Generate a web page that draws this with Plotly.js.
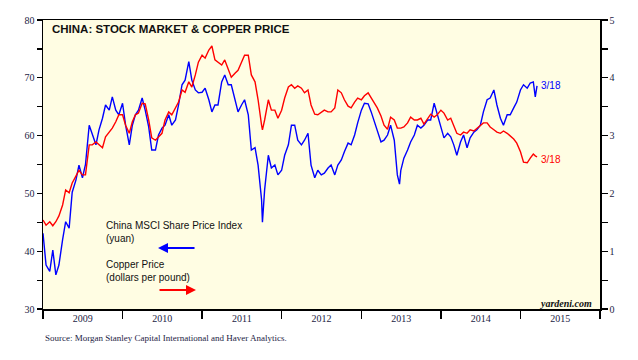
<!DOCTYPE html>
<html>
<head>
<meta charset="utf-8">
<script src="https://cdn.plot.ly/plotly-3.0.1.min.js"></script>
<style>
html,body{margin:0;padding:0;background:#fff;}
#chart{width:638px;height:360px;}
</style>
</head>
<body>
<div id="chart"></div>
<script>
var dates = [
'2009-01-01','2009-01-15','2009-02-01','2009-02-15','2009-03-01','2009-03-15','2009-04-01','2009-04-15','2009-05-01','2009-05-15','2009-06-01','2009-06-15','2009-07-01','2009-07-15','2009-08-01','2009-08-15','2009-09-01','2009-09-15','2009-10-01','2009-10-15','2009-11-01','2009-11-15','2009-12-01','2009-12-15',
'2010-01-01','2010-01-15','2010-02-01','2010-02-15','2010-03-01','2010-03-15','2010-04-01','2010-04-15','2010-05-01','2010-05-15','2010-06-01','2010-06-15','2010-07-01','2010-07-15','2010-08-01','2010-08-15','2010-09-01','2010-09-15','2010-10-01','2010-10-15','2010-11-01','2010-11-15','2010-12-01','2010-12-15',
'2011-01-01','2011-01-15','2011-02-01','2011-02-15','2011-03-01','2011-03-15','2011-04-01','2011-04-15','2011-05-01','2011-05-15','2011-06-01','2011-06-15','2011-07-01','2011-07-15','2011-08-01','2011-08-15','2011-09-01','2011-09-15','2011-10-01','2011-10-05','2011-10-15','2011-11-01','2011-11-15','2011-12-01','2011-12-15',
'2012-01-01','2012-01-15','2012-02-01','2012-02-15','2012-03-01','2012-03-15','2012-04-01','2012-04-15','2012-05-01','2012-05-15','2012-06-01','2012-06-15','2012-07-01','2012-07-15','2012-08-01','2012-08-15','2012-09-01','2012-09-15','2012-10-01','2012-10-15','2012-11-01','2012-11-15','2012-12-01','2012-12-15',
'2013-01-01','2013-01-15','2013-02-01','2013-02-15','2013-03-01','2013-03-15','2013-04-01','2013-04-15','2013-05-01','2013-05-15','2013-06-01','2013-06-15','2013-06-25','2013-07-01','2013-07-15','2013-08-01','2013-08-15','2013-09-01','2013-09-15','2013-10-01','2013-10-15','2013-11-01','2013-11-15','2013-12-01','2013-12-15',
'2014-01-01','2014-01-15','2014-02-01','2014-02-15','2014-03-01','2014-03-15','2014-04-01','2014-04-15','2014-05-01','2014-05-15','2014-06-01','2014-06-15','2014-07-01','2014-07-15','2014-08-01','2014-08-15','2014-09-01','2014-09-15','2014-10-01','2014-10-15','2014-11-01','2014-11-15','2014-12-01','2014-12-15',
'2015-01-01','2015-01-15','2015-02-01','2015-02-15','2015-03-01','2015-03-10','2015-03-18'
];

// China MSCI Share Price Index (yuan), left axis
var msciChina = [
43.1,37.6,36.5,40.2,35.9,37.6,42.0,45.1,44.0,50.2,52.3,54.9,52.7,55.0,61.8,60.1,58.4,61.0,63.0,65.3,64.4,66.7,64.4,63.6,
65.6,61.8,58.4,61.8,63.6,64.4,66.5,64.4,61.5,57.5,57.5,60.1,61.3,61.8,63.6,61.8,62.7,65.3,68.8,69.6,72.8,69.6,67.9,67.4,
67.5,68.2,66.2,64.1,65.3,65.3,69.3,70.5,68.8,68.8,66.2,64.1,65.3,66.2,63.6,57.5,57.9,54.9,48.9,45.0,50.6,56.6,54.4,54.9,53.2,
54.0,56.6,58.4,61.8,61.8,59.2,58.4,59.2,60.4,54.9,52.7,54.0,53.2,53.5,54.4,54.9,53.2,54.9,55.8,57.2,58.7,58.4,60.1,62.2,
64.4,65.6,65.5,64.1,62.4,61.0,58.9,59.2,60.1,61.8,59.2,53.2,51.6,54.0,56.1,57.5,58.9,60.1,61.8,61.3,61.8,62.7,62.7,65.6,63.6,
61.3,59.6,60.4,59.8,58.4,56.6,58.9,60.1,57.9,59.6,60.6,61.0,61.8,64.1,66.2,66.5,67.9,65.3,63.0,61.8,63.6,63.6,64.8,65.8,
67.9,68.8,68.2,69.1,69.3,66.7,68.6
];

// Copper price (dollars per pound), right axis
var copper = [
1.54,1.45,1.51,1.44,1.51,1.61,1.80,2.06,2.01,2.18,2.30,2.40,2.32,2.32,2.84,2.84,2.89,2.84,2.79,2.98,3.06,3.13,3.24,3.36,
3.36,3.18,3.04,3.24,3.36,3.39,3.56,3.55,3.27,2.96,2.92,2.98,3.04,3.27,3.41,3.36,3.48,3.58,3.79,3.75,3.93,3.84,4.05,4.27,
4.39,4.34,4.48,4.55,4.31,4.27,4.22,4.31,4.13,4.01,4.08,4.13,4.27,4.39,4.39,4.05,3.93,3.62,3.18,3.10,3.27,3.62,3.44,3.44,3.30,
3.44,3.65,3.84,3.88,3.82,3.86,3.82,3.74,3.79,3.53,3.37,3.36,3.41,3.44,3.41,3.41,3.48,3.79,3.74,3.62,3.51,3.48,3.58,3.65,
3.62,3.69,3.74,3.65,3.55,3.48,3.34,3.18,3.11,3.32,3.27,3.13,3.13,3.13,3.15,3.22,3.32,3.27,3.27,3.30,3.20,3.30,3.37,3.32,3.36,
3.44,3.39,3.27,3.30,3.17,3.04,3.01,3.06,3.04,3.10,3.08,3.13,3.18,3.22,3.22,3.15,3.10,3.06,3.04,3.08,3.04,2.99,2.94,2.87,
2.72,2.54,2.53,2.61,2.68,2.65,2.63
];

var leftTicks = [30,40,50,60,70,80];
var rightTicks = [0,1,2,3,4,5];
var endLabel = '3/18';

var tickFont = {family:'Liberation Serif, Times New Roman, serif', size:10, color:'#1c1c44'};
var sans = 'Liberation Sans, Arial, sans-serif';

var traces = [
  {x:dates, y:msciChina, type:'scatter', mode:'lines', line:{color:'#0000ff', width:1.4}, yaxis:'y', hoverinfo:'skip'},
  {x:dates, y:copper, type:'scatter', mode:'lines', line:{color:'#ff0000', width:1.4}, yaxis:'y2', hoverinfo:'skip'}
];

var lastDate = dates[dates.length-1];

var layout = {
  width:638, height:360,
  margin:{l:43, r:38, t:20, b:51},
  paper_bgcolor:'#ffffff',
  plot_bgcolor:'#fffde3',
  showlegend:false,
  xaxis:{
    type:'date', range:['2009-01-01','2016-01-01'],
    tick0:'2009-01-01', dtick:'M12', tickformat:'%Y', ticklabelmode:'period',
    ticks:'outside', ticklen:8, tickwidth:1.2, tickcolor:'#000', ticklabelstandoff:-9,
    showline:true, linecolor:'#000', linewidth:1.5, mirror:true,
    showgrid:false, zeroline:false, tickfont:tickFont, fixedrange:true
  },
  yaxis:{
    range:[30,80], tickvals:leftTicks, ticktext:leftTicks.map(String),
    ticks:'outside', ticklen:5, tickwidth:1.2, tickcolor:'#000',
    minor:{dtick:5, tick0:30, ticks:'outside', ticklen:5, tickwidth:1.2, tickcolor:'#000', showgrid:false},
    showline:true, linecolor:'#000', linewidth:1.5,
    showgrid:false, zeroline:false, tickfont:tickFont, fixedrange:true
  },
  yaxis2:{
    range:[0,5], tickvals:rightTicks, ticktext:rightTicks.map(String),
    overlaying:'y', side:'right',
    ticks:'outside', ticklen:6, tickwidth:1.2, tickcolor:'#000',
    minor:{dtick:0.5, tick0:0, ticks:'outside', ticklen:6, tickwidth:1.2, tickcolor:'#000', showgrid:false},
    showline:true, linecolor:'#000', linewidth:1.5,
    showgrid:false, zeroline:false, tickfont:tickFont, fixedrange:true
  },
  annotations:[
    {xref:'paper', yref:'paper', x:0.012, y:0.97, xanchor:'left', yanchor:'middle', showarrow:false,
     text:'<b>CHINA: STOCK MARKET &amp; COPPER PRICE</b>', font:{family:sans, size:11.5, color:'#111'}},
    {xref:'paper', yref:'paper', x:0.111, y:0.265, xanchor:'left', yanchor:'middle', align:'left', showarrow:false, borderpad:0,
     text:'China MSCI Share Price Index<br>(yuan)', font:{family:sans, size:10, color:'#111'}},
    {xref:'paper', yref:'paper', x:0.111, y:0.130, xanchor:'left', yanchor:'middle', align:'left', showarrow:false, borderpad:0,
     text:'Copper Price<br>(dollars per pound)', font:{family:sans, size:10, color:'#111'}},
    {xref:'paper', yref:'paper', x:0.2065, y:0.211, ax:38, ay:0, text:'', showarrow:true,
     arrowhead:2, arrowsize:1, arrowwidth:2, arrowcolor:'#0000ff'},
    {xref:'paper', yref:'paper', x:0.2747, y:0.066, ax:-38, ay:0, text:'', showarrow:true,
     arrowhead:2, arrowsize:1, arrowwidth:2, arrowcolor:'#ff0000'},
    {xref:'x', yref:'y', x:lastDate, y:msciChina[msciChina.length-1], xanchor:'left', yanchor:'middle', xshift:2, showarrow:false,
     text:endLabel, font:{family:sans, size:10, color:'#0000ff'}},
    {xref:'x', yref:'y2', x:lastDate, y:copper[copper.length-1], xanchor:'left', yanchor:'middle', xshift:2, yshift:-3, showarrow:false,
     text:endLabel, font:{family:sans, size:10, color:'#ff0000'}},
    {xref:'paper', yref:'paper', x:0.99, y:0.02, xanchor:'right', yanchor:'middle', showarrow:false,
     text:'<b><i>yardeni.com</i></b>', font:{family:'Liberation Serif, Times New Roman, serif', size:10, color:'#111'}},
    {xref:'paper', yref:'paper', x:0, y:-0.10, xanchor:'left', yanchor:'middle', showarrow:false,
     text:'Source: Morgan Stanley Capital International and Haver Analytics.', font:{family:'Liberation Serif, Times New Roman, serif', size:9, color:'#1c1c44'}}
  ]
};

Plotly.newPlot('chart', traces, layout, {staticPlot:true, displayModeBar:false});
</script>
</body>
</html>
